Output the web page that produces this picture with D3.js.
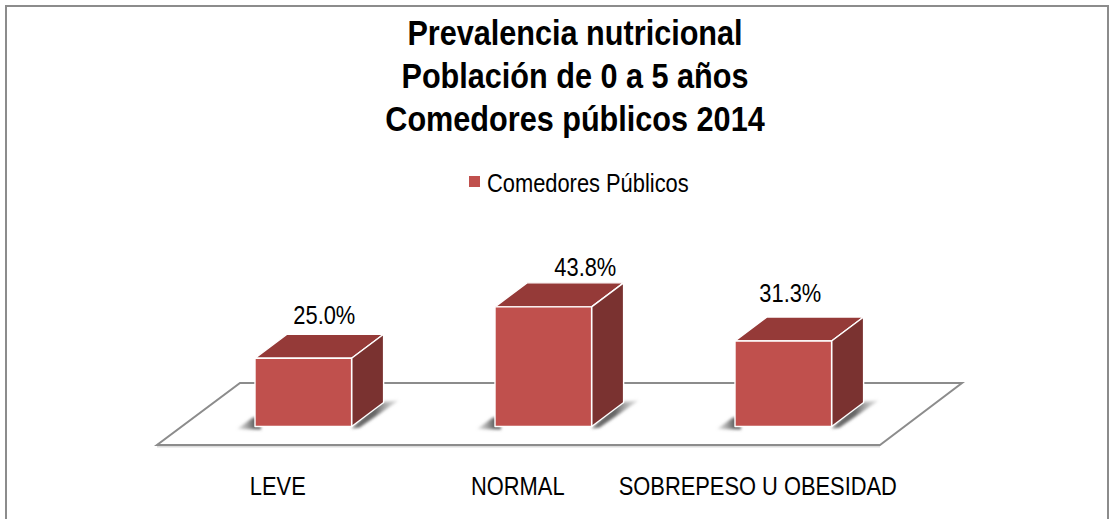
<!DOCTYPE html>
<html>
<head>
<meta charset="utf-8">
<script src="https://cdnjs.cloudflare.com/ajax/libs/d3/7.8.5/d3.min.js"></script>
<style>
  html, body { margin: 0; padding: 0; background: #fff; }
  text { font-family: "Liberation Sans", Arial, sans-serif; fill: #000; }
</style>
</head>
<body>
<div id="chart"></div>
<script>
var categories = ['LEVE', 'NORMAL', 'SOBREPESO U OBESIDAD'];
var values = [25.0, 43.8, 31.3];
var seriesName = 'Comedores Públicos';
var titleLines = ['Prevalencia nutricional', 'Población de 0 a 5 años', 'Comedores públicos 2014'];

var w = 1109;
var h = 519;
var depthX = 32;
var depthY = 24;
var barWidth = 96.6;
var baseY = 426.5;
var floorFront = 445;
var floorBack = 383;

// label offsets from the bar's centre, the original placed them by hand
var labelNudgeX = [5, 26, -9];
var labelNudgeY = [-10, -7, -15];

var svg = d3.select('#chart').append('svg')
  .attr('width', w).attr('height', h)
  .style('display', 'block');

var defs = svg.append('defs');
var grad = defs.append('linearGradient').attr('id', 'leftShadow')
  .attr('x1', 0).attr('x2', 1).attr('y1', 0).attr('y2', 0);
grad.append('stop').attr('offset', 0).attr('stop-color', '#aaa').attr('stop-opacity', 0.3);
grad.append('stop').attr('offset', 0.7).attr('stop-color', '#666').attr('stop-opacity', 1);
var grad2 = defs.append('linearGradient').attr('id', 'rightShadow')
  .attr('x1', 0).attr('x2', 1).attr('y1', 0).attr('y2', 0);
grad2.append('stop').attr('offset', 0.5).attr('stop-color', '#666').attr('stop-opacity', 1);
grad2.append('stop').attr('offset', 1).attr('stop-color', '#bbb').attr('stop-opacity', 0.4);
defs.append('filter').attr('id', 'blur').attr('x', '-30%').attr('y', '-50%')
  .attr('width', '160%').attr('height', '200%')
  .append('feGaussianBlur').attr('stdDeviation', 1.5);

svg.append('rect')
  .attr('x', 6).attr('y', 6).attr('width', w - 7).attr('height', h)
  .attr('fill', '#fff').attr('stroke', '#8c8c8c').attr('stroke-width', 2);

var x = d3.scaleBand().domain(categories).range([183.3, 903.3]);
var y = d3.scaleLinear().domain([0, 50]).range([0, 136.6]);

// narrow look: the font is squeezed sideways since no narrow face is installed
var narrow = function(sel, px, py, sx) {
  return sel.attr('transform', 'translate(' + px + ',' + py + ') scale(' + sx + ',1)');
};

var title = svg.append('g').selectAll('text').data(titleLines).enter().append('text')
  .attr('text-anchor', 'middle')
  .attr('font-size', 35)
  .attr('font-weight', 'bold')
  .text(function(d) { return d; });
title.each(function(d, i) { narrow(d3.select(this), 575, 45 + i * 43, 0.875); });

var legend = svg.append('g');
legend.append('rect').attr('x', 469).attr('y', 176).attr('width', 11).attr('height', 11).attr('fill', '#c0504d');
narrow(legend.append('text').attr('font-size', 25).text(seriesName), 487, 192, 0.875);

// floor
svg.append('path')
  .attr('d', d3.line()([[157, floorFront + 1.5], [880, floorFront + 1.5]]))
  .attr('stroke', '#dcdcdc').attr('stroke-width', 2).attr('fill', 'none');
svg.append('path')
  .attr('d', d3.line()([[157, floorFront], [880, floorFront], [962, floorBack], [240, floorBack]]) + 'Z')
  .attr('fill', '#fff').attr('stroke', '#8c8c8c').attr('stroke-width', 2);

var bars = svg.append('g').selectAll('g').data(values).enter().append('g');

bars.each(function(d, i) {
  var g = d3.select(this);
  var x0 = x(categories[i]) + x.bandwidth() / 2 - barWidth / 2;
  var x1 = x0 + barWidth;
  var top = baseY - y(d);

  // shadows on the floor
  g.append('path')
    .attr('d', d3.line()([[x0 - 18, baseY + 2.5], [x0 - 2, baseY - 9], [x0 + 6, baseY - 9], [x0 + 6, baseY + 3]]) + 'Z')
    .attr('fill', 'url(#leftShadow)').attr('filter', 'url(#blur)');
  g.append('path')
    .attr('d', d3.line()([[x0, baseY + 2.5], [x1, baseY + 2.5]]))
    .attr('stroke', '#999').attr('stroke-width', 2).attr('fill', 'none').attr('filter', 'url(#blur)');
  g.append('path')
    .attr('d', d3.line()([[x1, baseY + 2], [x1 + depthX - 6, baseY - depthY], [x1 + depthX + 15, baseY - depthY - 2], [x1 + 8, baseY + 1]]) + 'Z')
    .attr('fill', 'url(#rightShadow)').attr('filter', 'url(#blur)');

  var face = function(pts, fill) {
    g.append('path')
      .attr('d', d3.line()(pts) + 'Z')
      .attr('fill', fill).attr('stroke', '#fff').attr('stroke-width', 1.4)
      .attr('stroke-linejoin', 'round');
  };
  face([[x0, top], [x0 + depthX, top - depthY], [x1 + depthX, top - depthY], [x1, top]], '#953a38');
  face([[x1, top], [x1 + depthX, top - depthY], [x1 + depthX, baseY - depthY], [x1, baseY]], '#7a3230');
  face([[x0, top], [x1, top], [x1, baseY], [x0, baseY]], '#c0504d');

  narrow(g.append('text')
    .attr('text-anchor', 'middle')
    .attr('font-size', 25)
    .text(d3.format('.1f')(d) + '%'),
    x0 + (barWidth + depthX) / 2 + labelNudgeX[i], top - depthY + labelNudgeY[i], 0.875);
});

var catLabels = svg.append('g').selectAll('text').data(categories).enter().append('text')
  .attr('text-anchor', 'middle')
  .attr('font-size', 25)
  .text(function(d) { return d; });
catLabels.each(function(d) {
  narrow(d3.select(this), x(d) + x.bandwidth() / 2 - 25.5, 494.5, 0.875);
});
</script>
</body>
</html>
